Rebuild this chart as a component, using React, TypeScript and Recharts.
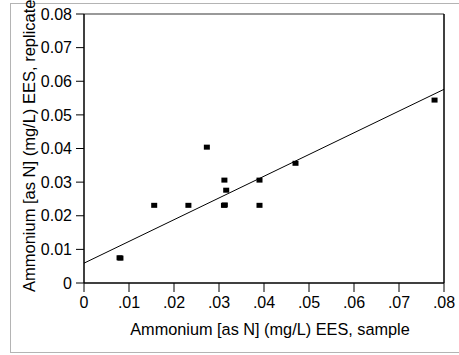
import { ScatterChart, Scatter, XAxis, YAxis, ReferenceLine } from "recharts";

// Ammonium [as N] (mg/L) EES: sample vs replicate
const sampleX = [0.0079, 0.0081, 0.0156, 0.0232, 0.0273, 0.0312, 0.0316, 0.0311, 0.0313, 0.039, 0.039, 0.047, 0.0779];
const replicateY = [0.0075, 0.0074, 0.0231, 0.0231, 0.0404, 0.0306, 0.0276, 0.0231, 0.0232, 0.0306, 0.0231, 0.0356, 0.0544];

// fitted line endpoints
const fitX = [0, 0.08];
const fitY = [0.0059, 0.0576];

const xTicks = [0, 0.01, 0.02, 0.03, 0.04, 0.05, 0.06, 0.07, 0.08];
const yTicks = [0, 0.01, 0.02, 0.03, 0.04, 0.05, 0.06, 0.07, 0.08];

const xTitle = "Ammonium [as N] (mg/L) EES, sample";
const yTitle = "Ammonium [as N] (mg/L) EES, replicate";

const points = sampleX.map((x, i) => ({ x, y: replicateY[i] }));
const fitLine = fitX.map((x, i) => ({ x, y: fitY[i] }));

const font = "'Liberation Sans', Arial, sans-serif";

const SquareDot = (props: any) => {
  const { cx, cy } = props;
  if (cx == null || cy == null) return <g />;
  return <rect x={cx - 3} y={cy - 2.5} width={6} height={5} fill="#000" />;
};

const fmtX = (v: number) => (v === 0 ? "0" : v.toFixed(2).replace(/^0/, ""));
const fmtY = (v: number) => (v === 0 ? "0" : v.toFixed(2));

export default function App() {
  return (
    <div
      style={{
        position: "absolute",
        left: 0,
        top: 0,
        width: 459,
        height: 355,
        overflow: "hidden",
        background: "#fff",
        fontFamily: font,
      }}
    >
      <div
        style={{
          position: "absolute",
          left: 10,
          top: 3,
          width: 470,
          height: 350,
          boxSizing: "border-box",
          border: "1px solid #b4b4b4",
        }}
      />
      <div style={{ position: "absolute", left: 0, top: 0 }}>
        <ScatterChart width={459} height={355} margin={{ top: 14, right: 15, bottom: 0, left: 0 }}>
          <XAxis
            type="number"
            dataKey="x"
            domain={[0, 0.08]}
            ticks={xTicks}
            tickFormatter={fmtX}
            height={72}
            tickSize={9}
            tickMargin={5}
            axisLine={{ stroke: "#000", strokeWidth: 1.5 }}
            tickLine={{ stroke: "#000" }}
            tick={{ fill: "#000", fontSize: 16, fontFamily: font }}
            interval={0}
            allowDataOverflow
            label={{
              content: (p: any) => {
                const vb = p.viewBox || {};
                return (
                  <text
                    x={vb.x + vb.width / 2 + 6}
                    y={335}
                    textAnchor="middle"
                    fontSize={16.3}
                    fontFamily={font}
                    fill="#000"
                  >
                    {xTitle}
                  </text>
                );
              },
            }}
          />
          <YAxis
            type="number"
            dataKey="y"
            domain={[0, 0.08]}
            ticks={yTicks}
            tickFormatter={fmtY}
            width={84}
            tickSize={8}
            tickMargin={4}
            axisLine={{ stroke: "#000", strokeWidth: 1.5 }}
            tickLine={{ stroke: "#000" }}
            tick={{ fill: "#000", fontSize: 16, fontFamily: font }}
            interval={0}
            allowDataOverflow
            label={{
              content: () => (
                <text
                  x={35}
                  y={292}
                  transform="rotate(-90, 35, 292)"
                  textAnchor="start"
                  fontSize={16.5}
                  fontFamily={font}
                  fill="#000"
                >
                  {yTitle}
                </text>
              ),
            }}
          />
          <ReferenceLine y={0.08} stroke="#777" strokeWidth={1.5} />
          <ReferenceLine x={0.08} stroke="#000" strokeWidth={1.5} />
          <Scatter
            data={fitLine}
            line={{ stroke: "#000", strokeWidth: 1 }}
            shape={() => <g />}
            isAnimationActive={false}
          />
          <Scatter data={points} shape={SquareDot} isAnimationActive={false} />
        </ScatterChart>
      </div>
    </div>
  );
}
